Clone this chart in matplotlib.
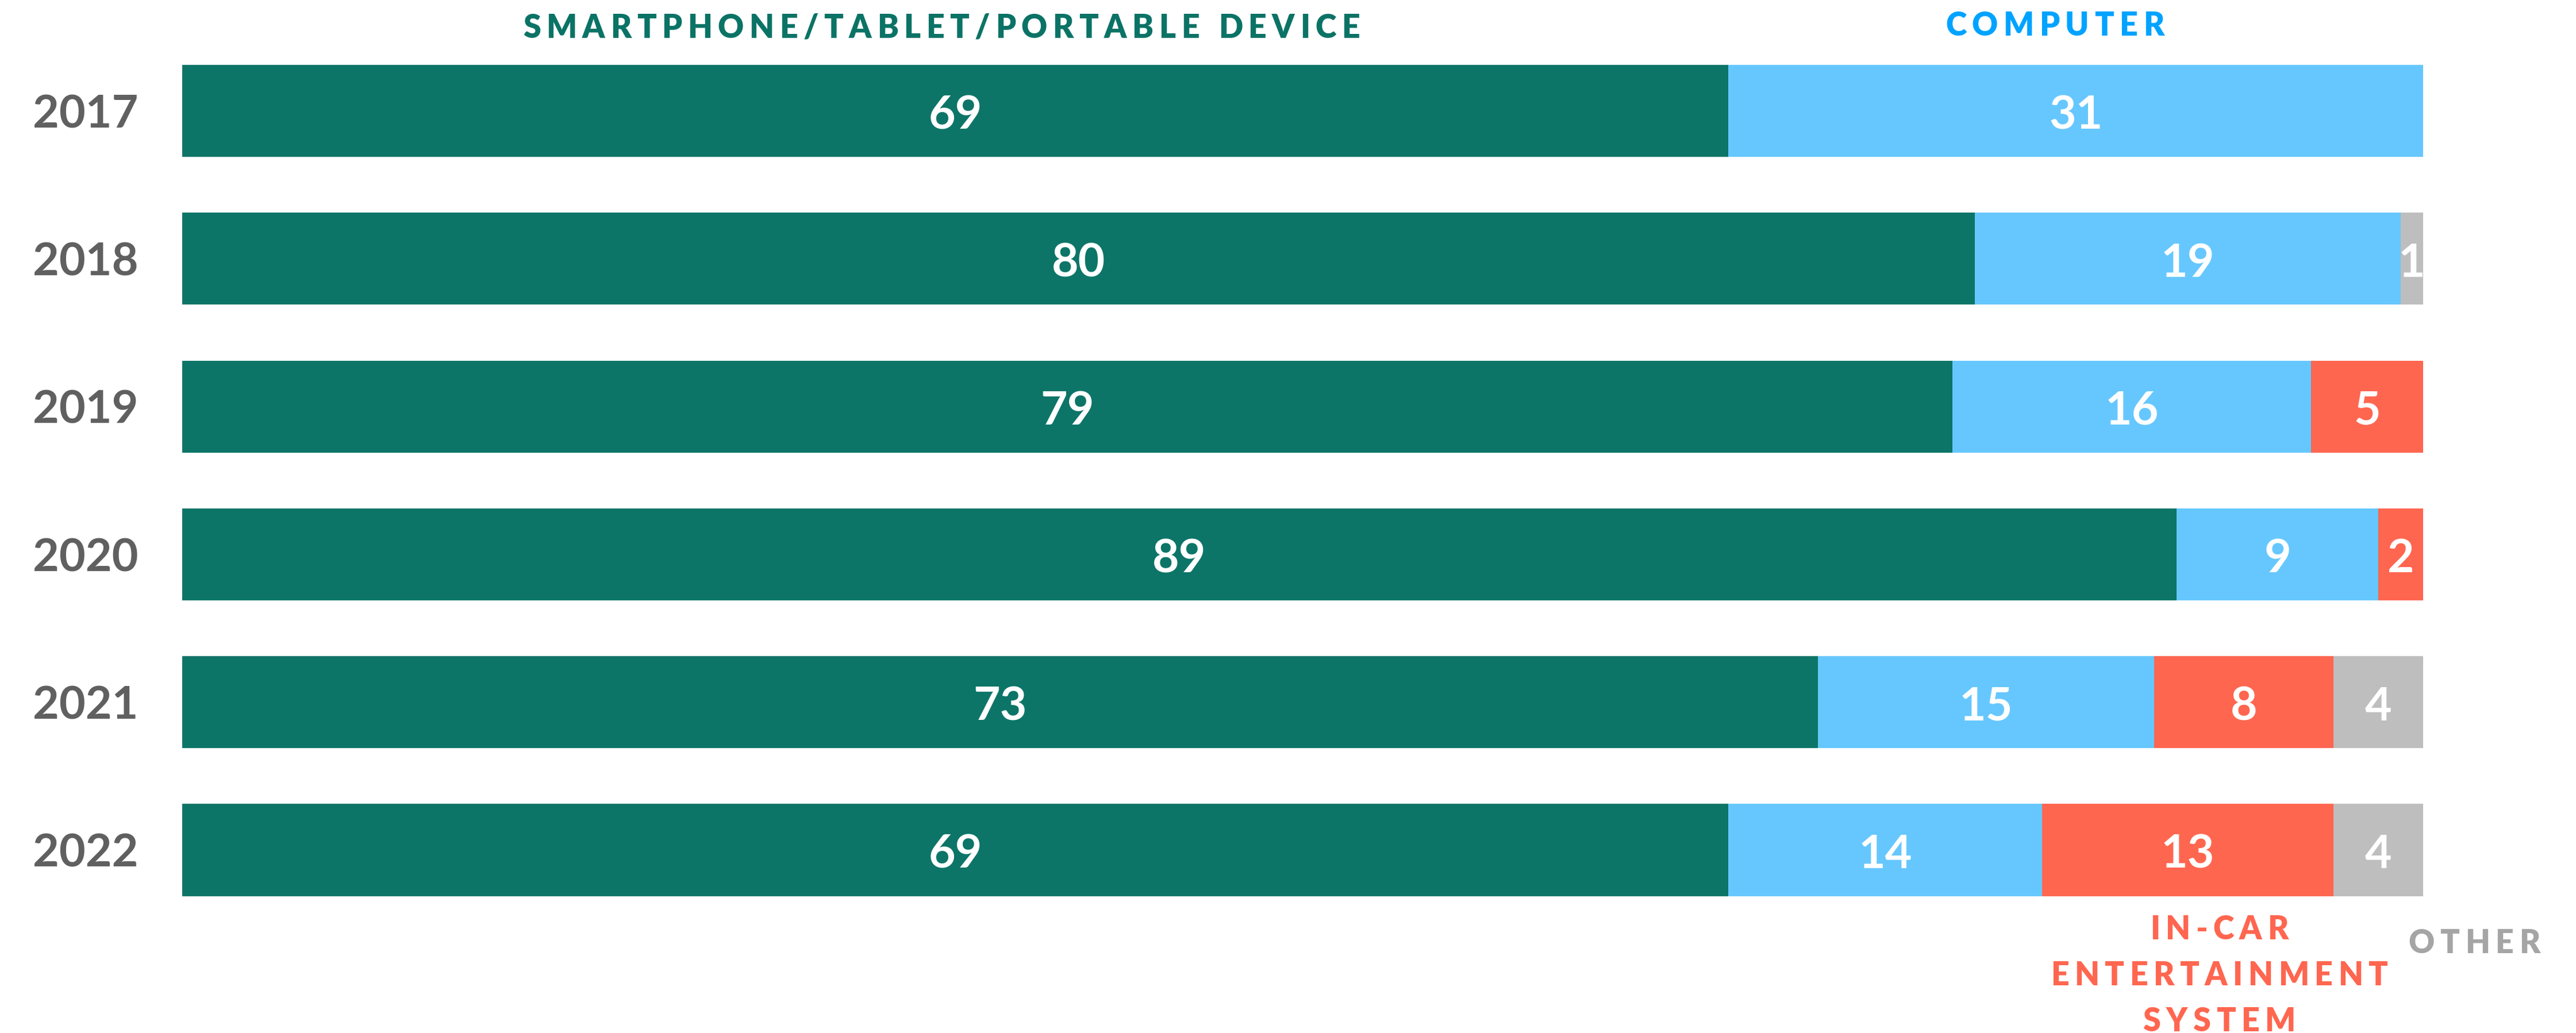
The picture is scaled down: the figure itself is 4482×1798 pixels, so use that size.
import matplotlib
matplotlib.use("Agg")
import matplotlib.pyplot as plt
import numpy as np

# Share of listening by device, per year (percent)
years = ["2017", "2018", "2019", "2020", "2021", "2022"]
smartphone = [69, 80, 79, 89, 73, 69]
computer = [31, 19, 16, 9, 15, 14]
in_car = [0, 0, 5, 2, 8, 13]
other = [0, 1, 0, 0, 4, 4]

series = [smartphone, computer, in_car, other]
series_colors = ["#0C7568", "#66C7FE", "#FF6650", "#BEBEBE"]
label_colors = ["#0B7366", "#00A3FF", "#FF6650", "#A5A5A5"]
series_names = [["SMARTPHONE/TABLET/PORTABLE DEVICE"], ["COMPUTER"],
                ["IN-CAR", "ENTERTAINMENT", "SYSTEM"], ["OTHER"]]

FONT = "Lato"
W, H, DPI = 4482, 1799, 100

fig = plt.figure(figsize=(W / DPI, H / DPI), dpi=DPI)
fig.patch.set_facecolor("white")

# axes spans the bar area horizontally and the full height vertically
x0_px, x1_px = 317, 4216
ax = fig.add_axes([x0_px / W, 0, (x1_px - x0_px) / W, 1])
pitch = 257.3
first_center = 194.0
ax.set_xlim(0, 100)
ax.set_ylim(5 + (H - (first_center + 5 * pitch)) / pitch, -first_center / pitch)
ax.axis("off")

y = np.arange(len(years))
bar_h = 0.622
left = np.zeros(len(years))
for vals, col in zip(series, series_colors):
    vals = np.array(vals, dtype=float)
    ax.barh(y, vals, left=left, height=bar_h, color=col, linewidth=0)
    for yi, (l, v) in enumerate(zip(left, vals)):
        if v > 0:
            ax.text(l + v / 2, yi + 0.118, f"{int(v)}", ha="center", va="baseline",
                    color="white", fontsize=58, family=FONT, fontweight="bold")
    left += vals

# year labels, right aligned to the left of the bars
for yi, yr in enumerate(years):
    ax.text(-1.95, yi + 0.11, yr, ha="right", va="baseline", color="#606060",
            fontsize=57, family=FONT, fontweight="bold")

renderer = fig.canvas.get_renderer()
LABEL_WEIGHT = "heavy"


def char_width(ch, size):
    if ch == " ":
        return size * DPI / 72 * 0.26
    t = fig.text(0, 0, ch, fontsize=size, family=FONT, fontweight=LABEL_WEIGHT)
    w = t.get_window_extent(renderer).width
    t.remove()
    return w


def tracked_text(s, xd, yd, color, size=40, tracking=9.5):
    """Draw letter-spaced text centred at data x, with baseline at data y."""
    px, py = ax.transData.transform((xd, yd))
    widths = [char_width(c, size) for c in s]
    total = sum(widths) + tracking * (len(s) - 1)
    cx = px - total / 2
    inv = fig.transFigure.inverted()
    for c, w in zip(s, widths):
        if c != " ":
            fx, fy = inv.transform((cx, py))
            fig.text(fx, fy, c, ha="left", va="baseline", color=color,
                     fontsize=size, family=FONT, fontweight=LABEL_WEIGHT)
        cx += w + tracking


def px_to_y(py):
    return (py - first_center) / pitch


def px_to_x(px):
    return (px - x0_px) / (x1_px - x0_px) * 100


# series labels (baselines given in pixel rows from the top)
tracked_text(series_names[0][0], px_to_x(1638), px_to_y(66), label_colors[0])
tracked_text(series_names[1][0], px_to_x(3575), px_to_y(62), label_colors[1])
for i, line in enumerate(series_names[2]):
    tracked_text(line, px_to_x(3861), px_to_y(1635 + 80 * i), label_colors[2])
tracked_text(series_names[3][0], px_to_x(4305), px_to_y(1659), label_colors[3])

fig.savefig("out.png", dpi=DPI, facecolor="white")
